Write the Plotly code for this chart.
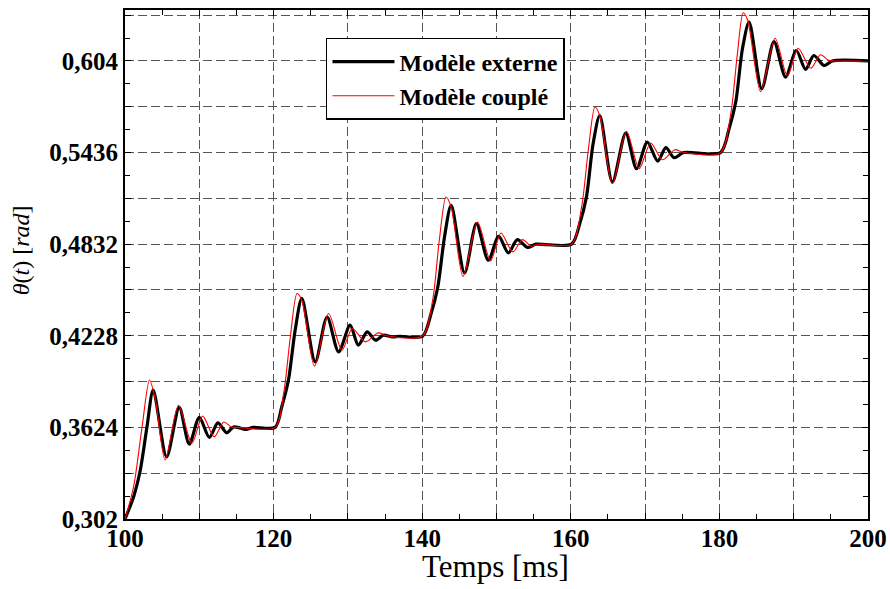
import plotly.graph_objects as go

# Modèle externe (courbe noire)
t_externe = [100, 101.16, 102.06, 102.96, 103.8, 105.6, 107.3, 108.65, 110.0, 111.35, 112.5, 113.7, 114.6, 115.5, 116.3, 117.2, 120.2,
             121.1, 122.0, 122.9, 123.8, 125.6, 127.2, 128.75, 130.3, 131.4, 132.6, 133.7, 134.8, 135.9, 137.0, 140.05,
             141.2, 142.1, 143.0, 143.9, 145.7, 147.3, 148.9, 150.3, 151.6, 152.8, 154.2, 155.3, 160.1,
             161.2, 162.1, 163.0, 163.9, 165.6, 167.4, 168.85, 170.3, 171.7, 172.8, 173.9, 175.2, 180.15,
             181.3, 182.2, 183.1, 184.0, 185.7, 187.35, 188.9, 190.35, 191.6, 192.7, 194.1, 195.2, 200]
theta_externe = [0.302, 0.3167, 0.3343, 0.3628, 0.387, 0.343, 0.3756, 0.3514, 0.369, 0.3558, 0.3654, 0.3588, 0.3627, 0.3620, 0.3610, 0.3624, 0.3624,
                 0.376, 0.3936, 0.4265, 0.4474, 0.4056, 0.4352, 0.4122, 0.4298, 0.4166, 0.4254, 0.4199, 0.4232, 0.4221, 0.4225, 0.4225,
                 0.4375, 0.455, 0.488, 0.5088, 0.4642, 0.4967, 0.4726, 0.4884, 0.4774, 0.4862, 0.4810, 0.4832, 0.4832,
                 0.4967, 0.5142, 0.5494, 0.568, 0.5241, 0.5564, 0.533, 0.5505, 0.538, 0.5468, 0.5402, 0.5436, 0.5436,
                 0.5593, 0.5769, 0.612, 0.6296, 0.5857, 0.6168, 0.5934, 0.6109, 0.5984, 0.6076, 0.601, 0.604, 0.604]

# Modèle couplé (courbe rouge)
t_couple = [100, 101.16, 102.3, 103.3, 104.1, 105.4, 107.2, 109.0, 110.45, 112.0, 113.3, 114.3, 115.2, 120.2,
            121.35, 122.25, 123.15, 123.8, 125.5, 127.4, 129.2, 130.6, 132.35, 134.1, 135.2, 140.05,
            141.4, 142.3, 143.2, 143.9, 145.5, 147.45, 149.2, 150.6, 152.2, 153.5, 154.7, 155.6, 160.1,
            161.45, 162.35, 163.25, 163.9, 165.6, 167.5, 169.2, 170.75, 172.35, 174.0, 175.2, 180.15,
            181.5, 182.4, 183.2, 183.8, 185.55, 187.5, 189.15, 190.6, 192.3, 193.6, 194.7, 195.5, 200]
theta_couple = [0.302, 0.3233, 0.3628, 0.3936, 0.3804, 0.3409, 0.377, 0.3519, 0.3698, 0.3562, 0.3659, 0.3627, 0.3624, 0.3624,
                0.3848, 0.422, 0.4507, 0.4462, 0.4028, 0.4375, 0.4133, 0.4276, 0.4188, 0.4247, 0.4228, 0.4228,
                0.4462, 0.4858, 0.5143, 0.5077, 0.462, 0.4978, 0.4722, 0.4906, 0.4781, 0.4862, 0.4818, 0.4832, 0.4832,
                0.5076, 0.5451, 0.5736, 0.568, 0.523, 0.5577, 0.533, 0.5499, 0.5389, 0.5455, 0.5436, 0.5436,
                0.5682, 0.6077, 0.6358, 0.631, 0.5838, 0.619, 0.594, 0.6124, 0.5992, 0.6081, 0.6044, 0.604, 0.604]

# graduations
x_ticks = [100, 110, 120, 130, 140, 150, 160, 170, 180, 190, 200]
x_labels = ['100', '', '120', '', '140', '', '160', '', '180', '', '200']
y_ticks = [0.302, 0.3322, 0.3624, 0.3926, 0.4228, 0.453, 0.4832, 0.5134, 0.5436, 0.5738, 0.604, 0.6342]
y_labels = ['0,302', '', '0,3624', '', '0,4228', '', '0,4832', '', '0,5436', '', '0,604', '']

police = 'Liberation Serif'

fig = go.Figure()
fig.add_trace(go.Scatter(x=t_externe, y=theta_externe, mode='lines', name='Modèle externe',
                         line=dict(color='black', width=3.2, shape='spline', smoothing=0.8)))
fig.add_trace(go.Scatter(x=t_couple, y=theta_couple, mode='lines', name='Modèle couplé',
                         line=dict(color='#ff0000', width=1.1, shape='spline', smoothing=0.8)))

axe = dict(showline=True, linecolor='black', linewidth=2, mirror='allticks',
           ticks='inside', ticklen=6, tickwidth=1.2, tickcolor='black',
           showgrid=True, gridcolor='#555555', gridwidth=1, griddash='9px,4px',
           zeroline=False, ticklabeloverflow='allow', automargin=False,
           tickfont=dict(family=police, size=25, color='black', weight='bold'))

fig.update_xaxes(range=[100, 200], tickmode='array', tickvals=x_ticks, ticktext=x_labels,
                 ticklabelstandoff=-4,
                 minor=dict(dtick=5, tick0=100, ticks='inside', ticklen=5, tickcolor='black', showgrid=False),
                 **axe)
fig.update_yaxes(range=[0.302, 0.6376], tickmode='array', tickvals=y_ticks, ticktext=y_labels,
                 minor=dict(dtick=0.0151, tick0=0.302, ticks='inside', ticklen=5, tickcolor='black', showgrid=False),
                 **axe)

fig.update_layout(
    width=890, height=589,
    margin=dict(l=125, r=22, t=10, b=70),
    plot_bgcolor='white', paper_bgcolor='white',
    font=dict(family=police, color='black'),
    showlegend=True,
    legend=dict(x=0.2705, y=0.945, xanchor='left', yanchor='top',
                bgcolor='white', bordercolor='black', borderwidth=1.5, itemwidth=62,
                font=dict(family=police, size=24, color='black', weight='bold')),
    annotations=[
        dict(text='Temps [ms]', xref='paper', yref='paper', x=0.498, y=-0.094,
             xanchor='center', yanchor='middle', showarrow=False,
             font=dict(family=police, size=31, color='black')),
        dict(text='<i>θ</i>(<i>t</i>) [<i>rad</i>]', xref='paper', yref='paper', x=-0.14, y=0.528,
             xanchor='center', yanchor='middle', textangle=-90, showarrow=False,
             font=dict(family=police, size=24, color='black')),
    ],
)

# page sans marge pour que la figure occupe toute la fenêtre
fig.write_html("out.html", config={'displayModeBar': False},
               post_script="document.body.style.margin='0';document.body.style.overflow='hidden';")
